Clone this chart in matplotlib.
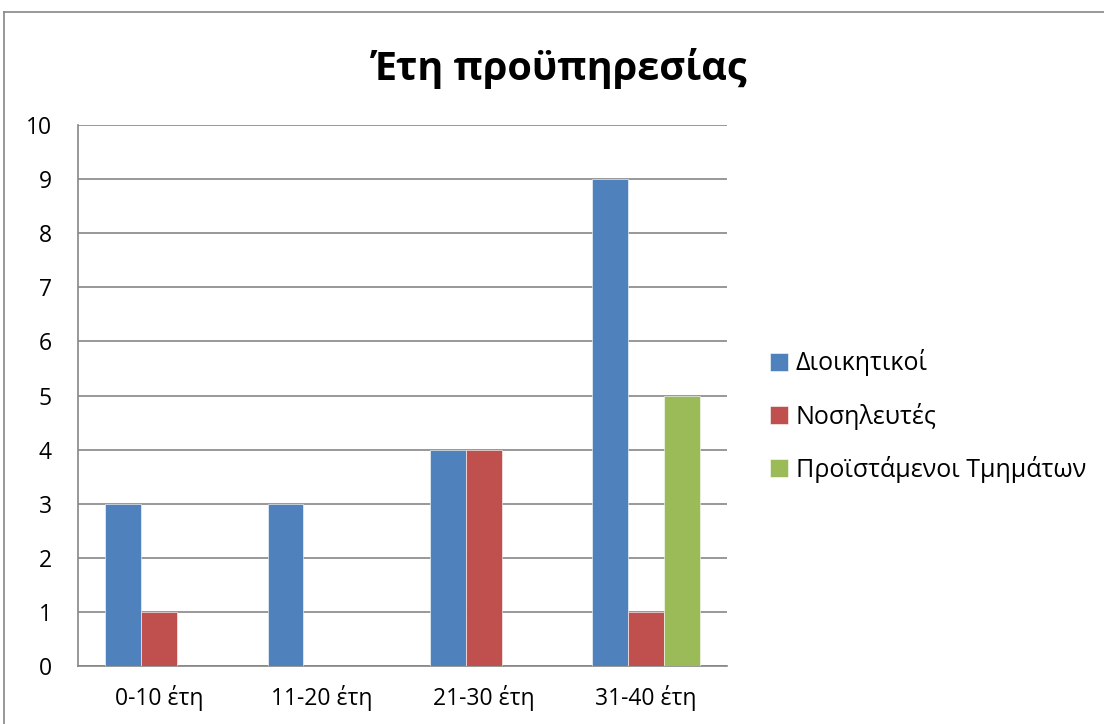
import numpy as np
import matplotlib.pyplot as plt
from matplotlib.lines import Line2D

plt.rcParams['font.family'] = ['Open Sans', 'DejaVu Sans']

categories = ['0-10 έτη', '11-20 έτη', '21-30 έτη', '31-40 έτη']
series_names = ['Διοικητικοί', 'Νοσηλευτές', 'Προϊστάμενοι Τμημάτων']
dioikitikoi = [3, 3, 4, 9]
nosileutes = [1, 0, 4, 1]
proistamenoi = [0, 0, 0, 5]
colors = ['#4F81BD', '#C0504D', '#9BBB59']

fig = plt.figure(figsize=(11.04, 7.24), dpi=100)
ax = fig.add_axes([0.0707, 0.0801, 0.5878, 0.7472])

x = np.arange(len(categories))
w = 0.2215
for k, vals in enumerate([dioikitikoi, nosileutes, proistamenoi]):
    ax.bar(x + (k - 1) * w, vals, width=w, color=colors[k], label=series_names[k],
           edgecolor='white', linewidth=0.4, zorder=3)

ax.set_xlim(-0.5, len(categories) - 0.5)
ax.set_ylim(0, 10)
ax.set_yticks(range(0, 11))
ax.set_xticks(x)
ax.set_xticklabels(categories)
ax.tick_params(axis='both', length=0, labelsize=16.5, colors='black')
ax.tick_params(axis='y', pad=19)
ax.tick_params(axis='x', pad=14)
ax.grid(axis='y', color='#868686', linewidth=1.2, zorder=0)
for side in ['top', 'right']:
    ax.spines[side].set_visible(False)
for side in ['left', 'bottom']:
    ax.spines[side].set_color('#868686')
    ax.spines[side].set_linewidth(1.2)

fig.text(0.507, 0.905, 'Έτη προϋπηρεσίας', ha='center', va='center',
         fontsize=28.5, fontweight='bold')

ax.legend(loc='center left', bbox_to_anchor=(1.032, 0.462), frameon=False,
          fontsize=18, handlelength=0.72, handleheight=0.72, handletextpad=0.3,
          labelspacing=1.05)

# chart area border
fig.add_artist(Line2D([4 / 1104, 1.0], [1 - 12 / 724, 1 - 12 / 724],
                      transform=fig.transFigure, color='#868686', linewidth=1.2))
fig.add_artist(Line2D([4 / 1104, 4 / 1104], [0.0, 1 - 12 / 724],
                      transform=fig.transFigure, color='#868686', linewidth=1.2))

fig.savefig('out.png', dpi=100)
